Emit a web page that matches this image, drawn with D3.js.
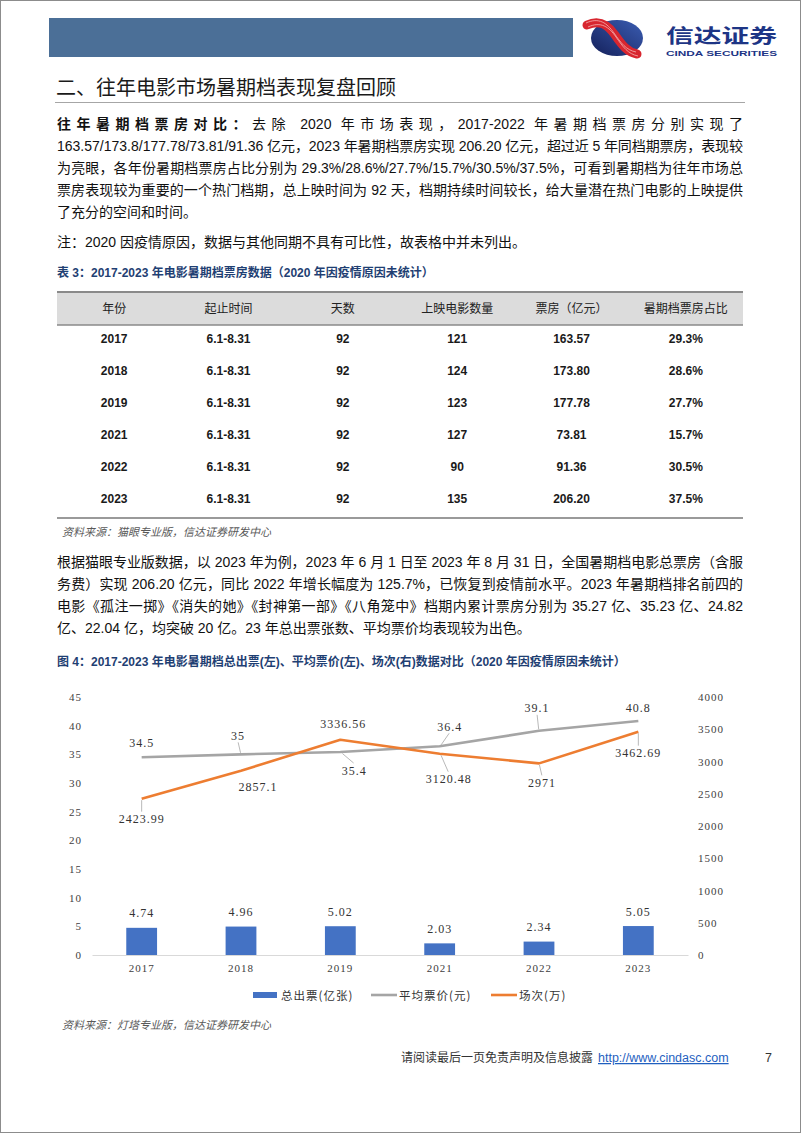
<!DOCTYPE html>
<html>
<head>
<meta charset="utf-8">
<script src="https://cdn.jsdelivr.net/npm/d3@7"></script>
<style>
  html, body { margin: 0; padding: 0; background: #fff; }
  svg { display: block; }
</style>
</head>
<body>
<svg id="page" width="802" height="1133"></svg>
<script>
// ---- text content ----
const pageTitle = "二、往年电影市场暑期档表现复盘回顾";
const para1Lead = "往年暑期档票房对比：";
const para1 = [
  "去除 2020 年市场表现，2017-2022 年暑期档票房分别实现了",
  "163.57/173.8/177.78/73.81/91.36 亿元，2023 年暑期档票房实现 206.20 亿元，超过近 5 年同档期票房，表现较",
  "为亮眼，各年份暑期档票房占比分别为 29.3%/28.6%/27.7%/15.7%/30.5%/37.5%，可看到暑期档为往年市场总",
  "票房表现较为重要的一个热门档期，总上映时间为 92 天，档期持续时间较长，给大量潜在热门电影的上映提供",
  "了充分的空间和时间。",
];
const noteLine = "注：2020 因疫情原因，数据与其他同期不具有可比性，故表格中并未列出。";
const tableCaption = "表 3：2017-2023 年电影暑期档票房数据（2020 年因疫情原因未统计）";
const tableSource = "资料来源：猫眼专业版，信达证券研发中心";
const para2 = [
  "根据猫眼专业版数据，以 2023 年为例，2023 年 6 月 1 日至 2023 年 8 月 31 日，全国暑期档电影总票房（含服",
  "务费）实现 206.20 亿元，同比 2022 年增长幅度为 125.7%，已恢复到疫情前水平。2023 年暑期档排名前四的",
  "电影《孤注一掷》《消失的她》《封神第一部》《八角笼中》档期内累计票房分别为 35.27 亿、35.23 亿、24.82",
  "亿、22.04 亿，均突破 20 亿。23 年总出票张数、平均票价均表现较为出色。",
];
const chartCaption = "图 4：2017-2023 年电影暑期档总出票(左)、平均票价(左)、场次(右)数据对比（2020 年因疫情原因未统计）";
const chartSource = "资料来源：灯塔专业版，信达证券研发中心";
const footerText = "请阅读最后一页免责声明及信息披露";
const footerUrl = "http://www.cindasc.com";
const pageNumber = "7";

// ---- table data ----
const tableHeaders = ["年份", "起止时间", "天数", "上映电影数量", "票房（亿元）", "暑期档票房占比"];
const tableYears = ["2017", "2018", "2019", "2021", "2022", "2023"];
const tablePeriods = ["6.1-8.31", "6.1-8.31", "6.1-8.31", "6.1-8.31", "6.1-8.31", "6.1-8.31"];
const tableDays = ["92", "92", "92", "92", "92", "92"];
const tableFilms = ["121", "124", "123", "127", "90", "135"];
const tableBoxOffice = ["163.57", "173.80", "177.78", "73.81", "91.36", "206.20"];
const tableShare = ["29.3%", "28.6%", "27.7%", "15.7%", "30.5%", "37.5%"];

// ---- chart data ----
const chartYears = ["2017", "2018", "2019", "2021", "2022", "2023"];
const ticketsSold = [4.74, 4.96, 5.02, 2.03, 2.34, 5.05];      // 亿张, left axis
const avgPrice = [34.5, 35, 35.4, 36.4, 39.1, 40.8];           // 元, left axis
const screenings = [2423.99, 2857.1, 3336.56, 3120.48, 2971, 3462.69]; // 万, right axis
const seriesNames = ["总出票(亿张)", "平均票价(元)", "场次(万)"];
const leftTicks = d3.range(0, 46, 5);
const rightTicks = d3.range(0, 4001, 500);

// label nudges [dx, dy, leader?] relative to each point
const priceLabelNudge = [[0, -15, 0], [-3, -19, 1], [14, 18, 1], [10, -20, 1], [-2, -23, 1], [0, -14, 0]];
const screenLabelNudge = [[0, 20, 1], [17, 16, 0], [3, -16, 0], [9, 25, 1], [3, 19, 1], [0, 21, 1]];

const colors = { bar: "#4472c4", price: "#a5a5a5", screen: "#ed7d31" };
const bodyFont = '"Liberation Sans", "Noto Sans CJK SC", sans-serif';
const cjkFont = '"Noto Sans CJK SC", "Liberation Sans", sans-serif';
const chartFont = '"Liberation Serif", "Noto Sans CJK SC", serif';
const captionBlue = "#1f3f73";
const cjkRe = /[\u3000-\u303f\u4e00-\u9fff\uff00-\uffef]/;
const runRe = /[\u3000-\u303f\u4e00-\u9fff\uff00-\uffef]+|[^\u3000-\u303f\u4e00-\u9fff\uff00-\uffef]+/g;

const svg = d3.select("#page");

// page frame + header
svg.append("rect").attr("x", 0.5).attr("y", 0.5).attr("width", 800).attr("height", 1132)
  .attr("fill", "#fff").attr("stroke", "#8c8c8c");
svg.append("rect").attr("x", 49).attr("y", 18).attr("width", 524).attr("height", 39).attr("fill", "#4b6f97");

// logo
const defs = svg.append("defs");
const grad = defs.append("linearGradient").attr("id", "logoBlue").attr("x1", 0).attr("y1", 1).attr("x2", 1).attr("y2", 0);
grad.append("stop").attr("offset", 0).attr("stop-color", "#14205a");
grad.append("stop").attr("offset", 1).attr("stop-color", "#3b5db3");
const logo = svg.append("g");
logo.append("ellipse").attr("cx", 617).attr("cy", 38).attr("rx", 26).attr("ry", 18).attr("fill", "url(#logoBlue)");
const ribbon = "M587,25 C600,19 608,25 615,35 S627,52 637,54";
logo.append("path").attr("d", ribbon).attr("fill", "none").attr("stroke", "#d8262f").attr("stroke-width", 9).attr("stroke-linecap", "round");
[-2, 2].forEach((o) => {
  logo.append("path").attr("d", ribbon).attr("transform", `translate(${o * 0.5},${o})`)
    .attr("fill", "none").attr("stroke", "#f6b3b3").attr("stroke-width", 0.8);
});
logo.append("text").attr("x", 666).attr("y", 42.5).attr("font-family", cjkFont).attr("font-weight", 700)
  .attr("font-size", 19).attr("fill", "#1d3585").attr("textLength", 111).attr("lengthAdjust", "spacingAndGlyphs").text("信达证券");
logo.append("text").attr("x", 666).attr("y", 56).attr("font-family", bodyFont).attr("font-weight", 700)
  .attr("font-size", 8).attr("fill", "#1d3585").attr("textLength", 111).attr("lengthAdjust", "spacingAndGlyphs").text("CINDA SECURITIES");

// title
svg.append("text").attr("x", 56).attr("y", 95).attr("font-family", cjkFont).attr("font-size", 20)
  .attr("fill", "#1a1a1a").text(pageTitle);
svg.append("line").attr("x1", 55).attr("x2", 745).attr("y1", 102.5).attr("y2", 102.5)
  .attr("stroke", "#a6a6a6").attr("stroke-width", 1);

// justified paragraph lines: widen gaps after CJK glyphs and spaces, keep Latin words tight
function addRuns(t, str, bold) {
  (str.match(runRe) || []).forEach((run) => {
    const isCjk = cjkRe.test(run[0]);
    const s = t.append("tspan").attr("class", isCjk ? "cjk" : "lat").text(run);
    if (bold) s.attr("font-weight", 700);
  });
}
function paragraph(lines, y0, lead) {
  lines.forEach((ln, i) => {
    const t = svg.append("text").attr("x", 57).attr("y", y0 + i * 22)
      .attr("font-family", bodyFont).attr("font-size", 14).attr("fill", "#111");
    if (i === 0 && lead) addRuns(t, lead, true);
    addRuns(t, ln, false);
    if (i < lines.length - 1) {
      const full = (i === 0 && lead ? lead : "") + ln;
      const w = t.node().getComputedTextLength();
      const cjkCount = full.split("").filter((c) => cjkRe.test(c)).length;
      const spaces = full.split("").filter((c) => c === " ").length;
      const gaps = cjkCount + spaces - (cjkRe.test(full[full.length - 1]) ? 1 : 0);
      const s = (686 - w) / gaps;
      t.selectAll("tspan.cjk").attr("letter-spacing", s);
      t.selectAll("tspan.lat").attr("word-spacing", s);
    }
  });
}
paragraph(para1, 129, para1Lead);
svg.append("text").attr("x", 57).attr("y", 247).attr("font-family", bodyFont).attr("font-size", 14)
  .attr("fill", "#111").text(noteLine);

// table
svg.append("text").attr("x", 57).attr("y", 277).attr("font-family", bodyFont).attr("font-size", 12)
  .attr("font-weight", 700).attr("fill", captionBlue).text(tableCaption);

const colX = d3.scaleBand().domain(d3.range(6)).range([57, 743]);
const rowY = d3.scaleBand().domain(d3.range(tableYears.length)).range([322, 514]);
const tableG = svg.append("g");
tableG.append("rect").attr("x", 57).attr("y", 292).attr("width", 686).attr("height", 33).attr("fill", "#dcdcdc");
tableG.append("line").attr("x1", 57).attr("x2", 743).attr("y1", 292).attr("y2", 292).attr("stroke", "#8a8a8a").attr("stroke-width", 2);
tableG.append("line").attr("x1", 57).attr("x2", 743).attr("y1", 325).attr("y2", 325).attr("stroke", "#8a8a8a").attr("stroke-width", 1.5);
tableG.append("line").attr("x1", 57).attr("x2", 743).attr("y1", 518).attr("y2", 518).attr("stroke", "#9a9a9a").attr("stroke-width", 2);
tableG.selectAll("text.th").data(tableHeaders).join("text").attr("class", "th")
  .attr("x", (d, i) => colX(i) + colX.bandwidth() / 2).attr("y", 312.5)
  .attr("text-anchor", "middle").attr("font-family", cjkFont).attr("font-size", 12).attr("fill", "#222").text((d) => d);
const tableCols = [tableYears, tablePeriods, tableDays, tableFilms, tableBoxOffice, tableShare];
tableCols.forEach((col, ci) => {
  tableG.selectAll(`text.c${ci}`).data(col).join("text").attr("class", `c${ci}`)
    .attr("x", colX(ci) + colX.bandwidth() / 2)
    .attr("y", (d, ri) => rowY(ri) + rowY.bandwidth() / 2 + 4.5)
    .attr("text-anchor", "middle").attr("font-family", bodyFont).attr("font-weight", 700)
    .attr("font-size", 12).attr("fill", "#1a1a1a").text((d) => d);
});
svg.append("text").attr("x", 62).attr("y", 536).attr("font-family", cjkFont).attr("font-size", 11)
  .attr("font-style", "italic").attr("fill", "#595959").text(tableSource);

paragraph(para2, 567, null);

svg.append("text").attr("x", 57).attr("y", 666).attr("font-family", bodyFont).attr("font-size", 12)
  .attr("font-weight", 700).attr("fill", captionBlue).text(chartCaption);

// ---- chart ----
const chart = svg.append("g").attr("font-family", chartFont);
const x = d3.scaleBand().domain(chartYears).range([92, 688]);
const yL = d3.scaleLinear().domain([0, 45]).range([955, 697]);
const yR = d3.scaleLinear().domain([0, 4000]).range([955, 697]);
const cx = (i) => x(chartYears[i]) + x.bandwidth() / 2;
const tickText = (g) => g.selectAll("text").attr("font-family", chartFont).attr("font-size", 11)
  .attr("fill", "#404040").attr("letter-spacing", 1);

chart.append("g").attr("transform", "translate(85,0)")
  .call(d3.axisLeft(yL).tickValues(leftTicks).tickSize(0).tickPadding(3).tickFormat(d3.format("d")))
  .call((g) => g.select(".domain").remove())
  .call(tickText);

chart.append("g").attr("transform", "translate(695,0)")
  .call(d3.axisRight(yR).tickValues(rightTicks).tickSize(0).tickPadding(3).tickFormat(d3.format("d")))
  .call((g) => g.select(".domain").remove())
  .call(tickText);

chart.append("g").attr("transform", "translate(0,955)")
  .call(d3.axisBottom(x).tickSize(0).tickPadding(9))
  .call((g) => g.select(".domain").attr("stroke", "#d9d9d9"))
  .call(tickText);

const barW = x.bandwidth() * 0.31;
chart.selectAll("rect.bar").data(ticketsSold).join("rect").attr("class", "bar")
  .attr("x", (d, i) => cx(i) - barW / 2).attr("width", barW)
  .attr("y", (d) => yL(d)).attr("height", (d) => yL(0) - yL(d)).attr("fill", colors.bar);

const lineOf = (vals, y) => d3.line().x((d, i) => cx(i)).y((d) => y(d))(vals);
chart.append("path").attr("d", lineOf(avgPrice, yL)).attr("fill", "none")
  .attr("stroke", colors.price).attr("stroke-width", 2.6).attr("stroke-linejoin", "round");
chart.append("path").attr("d", lineOf(screenings, yR)).attr("fill", "none")
  .attr("stroke", colors.screen).attr("stroke-width", 2.6).attr("stroke-linejoin", "round");

function dataLabels(vals, y, nudges) {
  vals.forEach((v, i) => {
    const px = cx(i), py = y(v);
    const [dx, dy, lead] = nudges[i];
    const lx = px + dx, ly = py + dy;
    if (lead) {
      const dir = Math.sign(dy);
      chart.append("line")
        .attr("x1", px + dx * 0.15).attr("y1", py + dir * 1.5)
        .attr("x2", lx - dx * 0.05).attr("y2", ly - dir * 7)
        .attr("stroke", "#a6a6a6").attr("stroke-width", 0.8);
    }
    chart.append("text").attr("x", lx).attr("y", ly + 4.5).attr("text-anchor", "middle")
      .attr("font-size", 12).attr("letter-spacing", 1).attr("fill", "#333").text(String(v));
  });
}
dataLabels(ticketsSold, yL, ticketsSold.map(() => [0, -15, 0]));
dataLabels(avgPrice, yL, priceLabelNudge);
dataLabels(screenings, yR, screenLabelNudge);

// legend
const legend = chart.append("g").attr("font-family", cjkFont).attr("font-size", 11.5).attr("fill", "#333");
const legendX = [253, 371, 491];
legend.append("rect").attr("x", legendX[0]).attr("y", 992).attr("width", 24).attr("height", 6).attr("fill", colors.bar);
legend.append("line").attr("x1", legendX[1]).attr("x2", legendX[1] + 26).attr("y1", 995).attr("y2", 995)
  .attr("stroke", colors.price).attr("stroke-width", 2.6);
legend.append("line").attr("x1", legendX[2]).attr("x2", legendX[2] + 26).attr("y1", 995).attr("y2", 995)
  .attr("stroke", colors.screen).attr("stroke-width", 2.6);
legend.selectAll("text").data(seriesNames).join("text")
  .attr("x", (d, i) => legendX[i] + 28).attr("y", 999.5).attr("letter-spacing", 1).text((d) => d);

svg.append("text").attr("x", 62).attr("y", 1029).attr("font-family", cjkFont).attr("font-size", 11)
  .attr("font-style", "italic").attr("fill", "#595959").text(chartSource);

// footer
svg.append("text").attr("x", 401).attr("y", 1062).attr("font-family", cjkFont).attr("font-size", 12)
  .attr("fill", "#333").text(footerText);
svg.append("text").attr("x", 598).attr("y", 1062).attr("font-family", bodyFont).attr("font-size", 12.5)
  .attr("fill", "#1f5fbf").attr("text-decoration", "underline").text(footerUrl);
svg.append("text").attr("x", 765).attr("y", 1062).attr("font-family", bodyFont).attr("font-size", 12.5)
  .attr("fill", "#333").text(pageNumber);
</script>
</body>
</html>
